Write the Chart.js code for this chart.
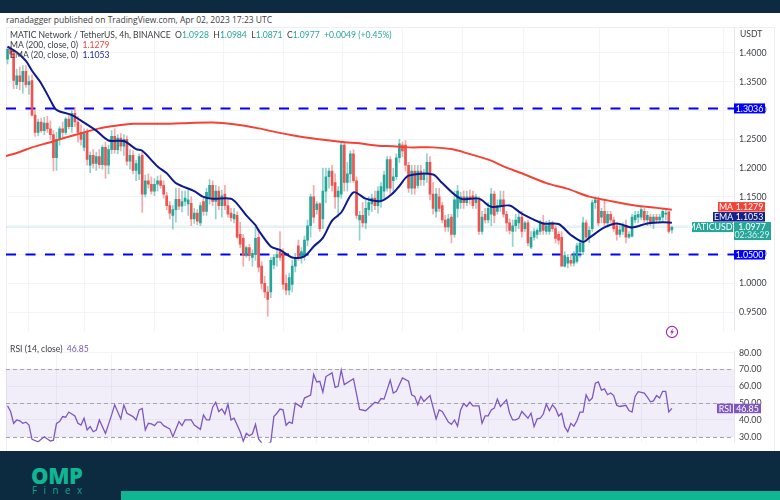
<!DOCTYPE html>
<html><head><meta charset="utf-8">
<style>
html,body{margin:0;padding:0;background:#fff;width:780px;height:500px;overflow:hidden;font-family:"Open Sans",sans-serif}
.abs{position:absolute}
canvas{position:absolute;left:0}
</style>
<script src="https://cdn.jsdelivr.net/npm/chart.js@4"></script>
</head><body>
<div class="abs" style="left:0;top:0;width:780px;height:13px;background:#0d2b40"></div>
<div class="abs" style="left:6px;top:14px;font-size:8.5px;color:#3c4043;white-space:nowrap">ranadagger published on TradingView.com, Apr 02, 2023 17:23 UTC</div>
<div class="abs" style="left:6px;top:27px;width:767px;height:430px;border:1px solid #eceef3;box-sizing:content-box"></div>
<canvas id="price" width="780" height="341" style="top:0"></canvas>
<canvas id="rsi" width="780" height="112" style="top:341px"></canvas>
<div class="abs" style="left:0;top:451px;width:780px;height:49px;background:#0d2b40"></div>
<div class="abs" style="left:121px;top:491px;width:659px;height:9px;background:#10b592"></div>
<div class="abs" style="left:31px;top:461px;font:800 22px/28px 'Open Sans',sans-serif;color:#10b592;letter-spacing:-.4px">OMP</div>
<div class="abs" style="left:32px;top:484px;font:400 10px/13px 'Open Sans',sans-serif;color:#12a088;letter-spacing:6.4px">Finex</div>
<script>
// Candles: bar index is the array position (4h bars)
const opens=[
1.389,1.406,1.400,1.345,1.360,1.350,1.368,1.345,1.352,1.292,
1.262,1.280,1.265,1.278,1.268,1.258,1.218,1.250,1.268,1.262,
1.285,1.272,1.295,1.280,1.262,1.236,1.262,1.205,1.222,1.208,
1.220,1.206,1.236,1.205,1.232,1.255,1.232,1.252,1.238,1.250,
1.212,1.222,1.196,1.190,1.222,1.155,1.178,1.172,1.160,1.172,
1.178,1.170,1.152,1.135,1.118,1.128,1.146,1.134,1.142,1.138,
1.139,1.112,1.122,1.105,1.142,1.125,1.150,1.170,1.142,1.160,
1.135,1.155,1.135,1.122,1.112,1.118,1.085,1.078,1.050,1.062,
1.045,1.050,1.080,1.030,1.000,0.985,0.985,1.032,1.045,1.055,
1.052,1.000,0.988,0.998,1.030,1.065,1.045,1.048,1.075,1.100,
1.150,1.128,1.138,1.112,1.160,1.185,1.195,1.175,1.150,1.155,
1.240,1.175,1.190,1.225,1.178,1.110,1.118,1.105,1.128,1.138,
1.148,1.135,1.145,1.160,1.165,1.215,1.178,1.185,1.218,1.240,
1.240,1.205,1.165,1.195,1.170,1.195,1.180,1.190,1.210,1.155,
1.125,1.150,1.135,1.110,1.098,1.115,1.085,1.130,1.140,1.150,
1.140,1.150,1.152,1.140,1.145,1.090,1.120,1.110,1.120,1.155,
1.125,1.135,1.145,1.120,1.105,1.090,1.100,1.105,1.115,1.095,
1.105,1.063,1.080,1.085,1.090,1.105,1.090,1.090,1.105,1.095,
1.085,1.080,1.030,1.035,1.040,1.035,1.038,1.055,1.055,1.105,
1.080,1.095,1.140,1.145,1.115,1.125,1.105,1.120,1.110,1.100,
1.085,1.090,1.100,1.080,1.082,1.110,1.115,1.115,1.125,1.110,
1.115,1.105,1.115,1.110,1.115,1.120,1.124,1.0928];
const highs=[
1.411,1.412,1.406,1.372,1.376,1.378,1.378,1.360,1.362,1.300,
1.285,1.287,1.288,1.290,1.282,1.265,1.262,1.272,1.280,1.288,
1.292,1.300,1.305,1.290,1.275,1.268,1.268,1.228,1.232,1.228,
1.232,1.240,1.245,1.240,1.265,1.268,1.258,1.260,1.258,1.256,
1.232,1.230,1.214,1.225,1.228,1.188,1.190,1.185,1.182,1.186,
1.188,1.178,1.158,1.142,1.135,1.165,1.165,1.160,1.160,1.162,
1.150,1.130,1.128,1.140,1.148,1.165,1.180,1.178,1.170,1.168,
1.162,1.170,1.145,1.130,1.130,1.124,1.106,1.085,1.065,1.068,
1.058,1.098,1.095,1.038,1.012,0.995,1.045,1.050,1.060,1.090,
1.060,1.015,1.018,1.040,1.052,1.075,1.062,1.082,1.110,1.155,
1.170,1.142,1.140,1.200,1.200,1.200,1.205,1.190,1.168,1.245,
1.245,1.210,1.230,1.232,1.185,1.125,1.140,1.145,1.150,1.155,
1.160,1.168,1.175,1.195,1.220,1.220,1.200,1.225,1.250,1.245,
1.248,1.210,1.205,1.205,1.205,1.205,1.198,1.225,1.220,1.175,
1.165,1.165,1.140,1.118,1.120,1.120,1.160,1.170,1.158,1.160,
1.160,1.162,1.160,1.155,1.150,1.125,1.130,1.140,1.165,1.160,
1.145,1.160,1.160,1.125,1.112,1.110,1.120,1.125,1.125,1.108,
1.110,1.090,1.095,1.095,1.110,1.118,1.108,1.110,1.108,1.100,
1.090,1.090,1.055,1.050,1.050,1.055,1.070,1.075,1.115,1.110,
1.098,1.145,1.150,1.150,1.130,1.145,1.125,1.125,1.115,1.105,
1.100,1.105,1.110,1.090,1.120,1.125,1.125,1.133,1.130,1.125,
1.120,1.120,1.120,1.120,1.130,1.130,1.125,1.0984];
const lows=[
1.381,1.392,1.338,1.338,1.336,1.330,1.340,1.328,1.290,1.255,
1.256,1.262,1.258,1.262,1.250,1.195,1.196,1.240,1.252,1.258,
1.268,1.262,1.272,1.245,1.240,1.230,1.205,1.192,1.200,1.196,
1.200,1.198,1.182,1.190,1.225,1.226,1.225,1.230,1.222,1.205,
1.198,1.190,1.178,1.180,1.123,1.150,1.165,1.155,1.152,1.160,
1.165,1.148,1.128,1.112,1.094,1.106,1.128,1.124,1.135,1.118,
1.100,1.104,1.102,1.100,1.118,1.118,1.138,1.135,1.112,1.128,
1.115,1.128,1.115,1.108,1.105,1.078,1.062,1.030,1.045,1.040,
1.030,1.040,1.020,0.990,0.975,0.943,0.975,1.025,1.030,1.040,
0.990,0.980,0.980,0.985,1.020,1.040,1.035,1.040,1.065,1.080,
1.105,1.120,1.090,1.095,1.140,1.165,1.160,1.130,1.115,1.148,
1.160,1.160,1.175,1.175,1.112,1.075,1.098,1.095,1.118,1.125,
1.128,1.122,1.132,1.148,1.160,1.155,1.160,1.180,1.210,1.220,
1.195,1.158,1.155,1.155,1.165,1.170,1.170,1.175,1.145,1.120,
1.115,1.125,1.105,1.090,1.090,1.070,1.080,1.115,1.130,1.130,
1.135,1.138,1.130,1.130,1.085,1.085,1.105,1.105,1.100,1.105,
1.120,1.125,1.115,1.090,1.086,1.064,1.090,1.095,1.080,1.090,
1.065,1.060,1.075,1.078,1.085,1.085,1.085,1.085,1.090,1.070,
1.068,1.030,1.028,1.027,1.030,1.030,1.035,1.045,1.050,1.075,
1.070,1.090,1.130,1.100,1.105,1.100,1.098,1.105,1.090,1.075,
1.080,1.085,1.070,1.078,1.080,1.105,1.105,1.110,1.105,1.100,
1.100,1.095,1.105,1.105,1.105,1.110,1.087,1.0871];
const closes=[
1.406,1.398,1.352,1.360,1.350,1.368,1.345,1.350,1.292,1.262,
1.280,1.265,1.278,1.268,1.258,1.218,1.250,1.268,1.262,1.285,
1.272,1.295,1.280,1.262,1.250,1.262,1.215,1.222,1.208,1.220,
1.206,1.236,1.205,1.232,1.255,1.232,1.252,1.238,1.250,1.212,
1.222,1.196,1.208,1.220,1.155,1.178,1.172,1.160,1.172,1.178,
1.170,1.155,1.135,1.122,1.128,1.146,1.134,1.142,1.148,1.145,
1.112,1.122,1.108,1.135,1.125,1.158,1.170,1.142,1.160,1.135,
1.152,1.135,1.120,1.114,1.120,1.080,1.068,1.048,1.062,1.048,
1.052,1.078,1.028,1.000,0.985,0.972,1.040,1.045,1.050,1.045,
0.998,0.988,1.010,1.030,1.045,1.045,1.055,1.075,1.100,1.150,
1.115,1.138,1.095,1.160,1.185,1.195,1.170,1.150,1.160,1.240,
1.175,1.190,1.225,1.178,1.118,1.118,1.105,1.130,1.140,1.148,
1.135,1.160,1.168,1.188,1.215,1.165,1.185,1.218,1.242,1.230,
1.205,1.165,1.195,1.165,1.195,1.180,1.190,1.210,1.155,1.130,
1.155,1.130,1.110,1.098,1.112,1.085,1.145,1.160,1.150,1.140,
1.150,1.146,1.135,1.150,1.090,1.115,1.110,1.130,1.155,1.118,
1.135,1.145,1.120,1.105,1.092,1.100,1.110,1.115,1.090,1.105,
1.070,1.080,1.090,1.092,1.105,1.092,1.100,1.105,1.095,1.078,
1.075,1.030,1.048,1.045,1.035,1.050,1.065,1.070,1.105,1.080,
1.092,1.140,1.145,1.105,1.125,1.105,1.120,1.110,1.095,1.085,
1.093,1.100,1.080,1.085,1.115,1.118,1.120,1.128,1.110,1.118,
1.105,1.115,1.110,1.115,1.125,1.122,1.090,1.0977];

// Moving averages, read at the bars where the curves bend
const maBars=[-0.5,4,8,14,19,25,30,36,41,47,52,57,67,74,82,88,93,101,110,115,121,126,131,139,145,150,158,162,168,176,183,190,196,204,212,217];
const maValues=[1.221,1.228,1.236,1.245,1.253,1.262,1.269,1.274,1.277,1.277,1.277,1.278,1.279,1.276,1.269,1.262,1.257,1.2505,1.245,1.243,1.239,1.238,1.236,1.236,1.233,1.226,1.213,1.203,1.191,1.174,1.164,1.1505,1.144,1.136,1.131,1.1279];
const emaBars=[0,3,6,8,11,14,16,21,25,29,33,38,42,44,49,52,55,61,64,67,73,75,78,81,82,86,89,93,97,100,103,106,109,113,117,122,126,128,131,139,142,148,154,158,164,168,175,180,184,188,190,195,199,204,209,214,217];
const emaValues=[1.411,1.401,1.386,1.369,1.347,1.318,1.301,1.292,1.279,1.265,1.248,1.247,1.233,1.230,1.203,1.191,1.174,1.160,1.150,1.147,1.147,1.138,1.118,1.101,1.092,1.064,1.058,1.045,1.047,1.064,1.079,1.109,1.123,1.158,1.147,1.143,1.157,1.169,1.187,1.189,1.174,1.147,1.147,1.133,1.135,1.121,1.104,1.103,1.084,1.072,1.079,1.097,1.104,1.097,1.104,1.106,1.1053];

// RSI (14)
const rsiBars=[0,1,2,3,4,5,6,7,8,10,12,14,15,16,17,18,19,20,22,23,24,25,26,27,28,29,30,32,34,35,37,38,39,41,42,43,44,45,46,47,48,49,50,51,53,54,56,57,58,60,61,63,64,65,66,67,68,69,70,71,72,73,74,76,77,78,79,80,81,82,84,86,87,88,89,90,91,92,93,94,96,97,99,100,101,102,103,104,106,107,108,109,110,113,115,117,120,121,122,123,125,126,127,129,131,132,133,134,135,136,138,140,141,142,144,145,146,147,148,149,150,151,152,154,155,156,157,158,159,160,161,162,163,164,165,166,167,168,170,171,172,173,174,175,176,177,178,179,180,181,182,183,184,185,186,187,188,189,190,191,192,193,194,195,196,197,198,199,200,202,203,204,205,206,208,209,210,211,212,213,214,215,216,217];
const rsiValues=[48.4,45,38,40,39.5,38,38.7,37,28.5,27,30,27.5,28,38,39,42,41.6,44.7,42.4,38,37,41,34,36,33,34,40,32,43,49,40.6,48.9,44,42,40,46,46.8,34,38,37.6,36.6,38.7,38.7,36.6,34.7,30,39,36.6,40,40,37,34.4,43,40,40,47.6,50.5,45,46.5,43.5,49.5,40,41,33,27.4,32,30.6,31.8,37.4,28.7,24,27,42,44,46.5,46,36.8,38.7,38,50,47.6,53,54.8,67,62.6,63,56.5,65.8,68,59.4,60,69.7,61,64.5,46.3,45.5,50.5,50,52.7,52.4,63.7,56,57,65,63,55,54,49,54,51,54.5,40.6,46,45,38.7,37.4,40,36.3,46,49.7,48,50.6,48.4,48.4,38,42.4,42.4,46,47,52.4,48,50,52,44,40,40,41,45,41,44,36,40.6,41,43.5,49.5,45.5,49,46.8,42.3,44,36,33,38,36.3,39.5,44.7,44.7,55,51.3,53,61.8,62.6,57.7,58.5,55,56,54.5,48.7,48,48.7,45.6,44.7,54,56.8,56,53.5,50.8,51.3,54.5,53,57,57,44.7,46.85];

// Axis content
const priceTicks=[0.95,1.00,1.05,1.10,1.15,1.20,1.25,1.30,1.35,1.40];
const rsiTicks=[30,40,50,60,70,80];
const rsiLevels=[70,50,30];
const gridBars=[16,34,62,79,101,118,140,157,180,207,225];
const levels=[1.3036,1.05];
const lastClose=1.0977;
const maLast=1.1279, emaLast=1.1053, rsiLast=46.85;
const barMin=-0.5, barMax=237.3;

const GREEN='#26a69a',RED='#ef5350',BLUE='#0000ff',FONT='"Open Sans",sans-serif',NARROW='"Liberation Sans Narrow","Lato",sans-serif',TXT='#3d4045';
const up=closes.map((c,i)=>c>=opens[i]);
const wickColors=up.map(u=>u?'rgba(38,166,154,.5)':'rgba(239,83,80,.5)');
const bodyColors=up.map(u=>u?GREEN:RED);
const pairs=(xs,ys)=>xs.map((x,i)=>({x,y:ys[i]}));
Chart.defaults.font.family=NARROW;

function box(ctx,x,y,w,h,bg,text,color){
  ctx.fillStyle=bg;ctx.fillRect(x,y,w,h);
  ctx.fillStyle=color||'#fff';ctx.font='8.8px '+NARROW;ctx.textAlign='center';ctx.textBaseline='middle';
  ctx.fillText(text,x+w/2,y+h/2+.5);
}
function chain(ctx,x,y,parts){
  ctx.textAlign='left';ctx.textBaseline='middle';ctx.font='8.6px '+NARROW;
  parts.forEach(([t,c])=>{ctx.fillStyle=c;ctx.fillText(t,x,y);x+=ctx.measureText(t).width;});
}
const priceOverlay={id:'priceOverlay',afterDraw(ch){
  const c=ch.ctx,y=ch.scales.y;
  c.save();
  chain(c,10,35,[['MATIC Network / TetherUS, 4h, BINANCE  ',TXT],['O',TXT],['1.0928',GREEN],['  H',TXT],['1.0984',GREEN],['  L',TXT],['1.0871',GREEN],['  C',TXT],['1.0977',GREEN],['  +0.0049 (+0.45%)',GREEN]]);
  chain(c,10,45.5,[['MA (200, close, 0)  ',TXT],[maLast.toFixed(4),'#f44336']]);
  chain(c,10,55.5,[['EMA (20, close, 0)  ',TXT],[emaLast.toFixed(4),'#1a2a9c']]);
  c.fillStyle=TXT;c.font='8.6px '+NARROW;c.textAlign='left';c.textBaseline='middle';c.fillText('USDT',740,34.5);
  const ly=y.getPixelForValue(levels[0]);
  box(c,734,ly-5,31,10,BLUE,levels[0].toFixed(4));
  box(c,734,y.getPixelForValue(levels[1])-4.5,31,9.5,BLUE,levels[1].toFixed(4));
  const lastY=y.getPixelForValue(lastClose);
  box(c,718,lastY-25,16,9.5,'#f44336','MA');
  box(c,734,lastY-25,31,9.5,'#f44336',maLast.toFixed(4));
  box(c,713,lastY-15,21,9.5,'#131f8b','EMA');
  box(c,734,lastY-15,31,9.5,'#131f8b',emaLast.toFixed(4));
  box(c,692,lastY-5,41,10,GREEN,'MATICUSDT');
  c.fillStyle=GREEN;c.fillRect(734,lastY-5,37,18);
  c.fillStyle='#fff';c.textAlign='center';c.font='8.8px '+NARROW;c.fillText(lastClose.toFixed(4),752,lastY);
  c.fillStyle='#d5efec';c.fillText('02:36:29',752,lastY+8.5);
  // flash icon
  c.strokeStyle='#9c27b0';c.lineWidth=1.1;c.beginPath();c.arc(672,332,5.6,0,Math.PI*2);c.stroke();
  c.fillStyle='#9c27b0';c.beginPath();c.moveTo(673.5,328);c.lineTo(670,332.6);c.lineTo(672,332.6);c.lineTo(670.5,336);c.lineTo(674,331.2);c.lineTo(672,331.2);c.closePath();c.fill();
  c.restore();
}};
new Chart(document.getElementById('price'),{
  data:{datasets:[
    {type:'line',order:5,data:pairs([barMin,barMax],[levels[0],levels[0]]),borderColor:BLUE,borderWidth:2,borderDash:[10,9.5],pointRadius:0},
    {type:'line',order:5,data:pairs([barMin,barMax],[levels[1],levels[1]]),borderColor:BLUE,borderWidth:2,borderDash:[10,9.5],pointRadius:0},
    {type:'line',order:6,data:pairs([barMin,barMax],[lastClose,lastClose]),borderColor:'rgba(38,166,154,.25)',borderWidth:1,pointRadius:0},
    {type:'bar',order:4,grouped:false,barThickness:1,data:lows.map((l,i)=>({x:i,y:[l,highs[i]]})),backgroundColor:wickColors,borderWidth:0},
    {type:'bar',order:3,grouped:false,barThickness:2,minBarLength:1,data:opens.map((o,i)=>({x:i,y:[o,closes[i]]})),backgroundColor:bodyColors,borderWidth:0},
    {type:'line',order:2,data:pairs(maBars,maValues),borderColor:'#f44336',borderWidth:2,pointRadius:0,tension:.3},
    {type:'line',order:1,data:pairs(emaBars,emaValues),borderColor:'#0d1b8c',borderWidth:2,pointRadius:0,tension:.3}
  ]},
  options:{responsive:false,animation:false,devicePixelRatio:1,
    layout:{autoPadding:false,padding:{left:6,top:27,bottom:3,right:0}},
    plugins:{legend:{display:false},tooltip:{enabled:false}},
    scales:{
      x:{type:'linear',min:barMin,max:barMax,offset:false,
        afterBuildTicks:s=>{s.ticks=gridBars.map(v=>({value:v}));},
        afterFit:s=>{s.height=0;},
        ticks:{display:false},grid:{color:'#f2f4f9',lineWidth:1,drawTicks:false},border:{display:false}},
      y:{position:'right',min:1.05+(260-338)/590,max:1.05+(260-27)/590,
        afterBuildTicks:s=>{s.ticks=priceTicks.map(v=>({value:v}));},
        afterFit:s=>{s.width=46;},
        ticks:{callback:v=>v.toFixed(4),color:TXT,font:{size:8.8},padding:5,autoSkip:false},
        grid:{color:'#f2f4f9',drawTicks:false},border:{color:'#e6e8ee'}}
    }},
  plugins:[priceOverlay]
});

const rsiBand={id:'rsiBand',beforeDatasetsDraw(ch){
  const c=ch.ctx,y=ch.scales.y,a=ch.chartArea;
  c.save();c.fillStyle='rgba(126,87,194,.1)';
  c.fillRect(a.left,y.getPixelForValue(rsiLevels[0]),a.right-a.left,y.getPixelForValue(rsiLevels[2])-y.getPixelForValue(rsiLevels[0]));
  c.strokeStyle='#a5a5ad';c.lineWidth=1;c.setLineDash([4,3]);
  rsiLevels.forEach(v=>{const p=Math.round(y.getPixelForValue(v))+.5;c.beginPath();c.moveTo(a.left,p);c.lineTo(a.right,p);c.stroke();});
  c.restore();
},afterDraw(ch){
  const c=ch.ctx,y=ch.scales.y;
  c.save();
  chain(c,10,8.5,[['RSI (14, close)  ',TXT],[rsiLast.toFixed(2),'#7e57c2']]);
  const p=y.getPixelForValue(rsiLast);
  box(c,717,p-4.7,16,9.5,'#7e57c2','RSI');
  box(c,734,p-4.7,27,9.5,'#7e57c2',rsiLast.toFixed(2));
  c.restore();
}};
new Chart(document.getElementById('rsi'),{
  data:{datasets:[{type:'line',data:pairs(rsiBars,rsiValues),borderColor:'#7e57c2',borderWidth:1.3,pointRadius:0,tension:0}]},
  options:{responsive:false,animation:false,devicePixelRatio:1,
    layout:{autoPadding:false,padding:{left:6,top:0,bottom:0,right:0}},
    plugins:{legend:{display:false},tooltip:{enabled:false}},
    scales:{
      x:{type:'linear',min:barMin,max:barMax,
        afterBuildTicks:s=>{s.ticks=gridBars.map(v=>({value:v}));},
        afterFit:s=>{s.height=0;},
        ticks:{display:false},grid:{color:'#f2f4f9',drawTicks:false},border:{display:false}},
      y:{position:'right',min:30+(445.7-453)/2.06,max:30+(445.7-341)/2.06,
        afterBuildTicks:s=>{s.ticks=rsiTicks.map(v=>({value:v}));},
        afterFit:s=>{s.width=46;},
        ticks:{callback:v=>v.toFixed(2),color:TXT,font:{size:8.8},padding:5,autoSkip:false},
        grid:{color:'#f2f4f9',drawTicks:false},border:{color:'#e6e8ee'}}
    }},
  plugins:[rsiBand]
});
</script>
</body></html>
